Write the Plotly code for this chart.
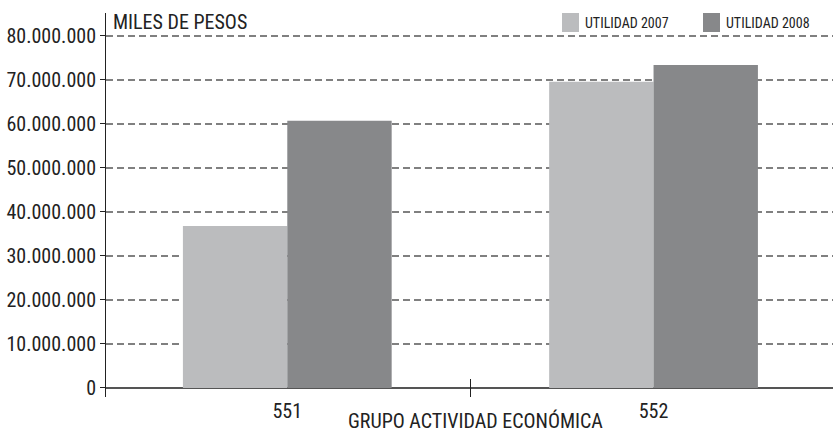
import plotly.graph_objects as go

categories = ["551", "552"]
utilidad_2007 = [36_800_000, 69_600_000]
utilidad_2008 = [60_700_000, 73_400_000]
y_ticks = [0, 10_000_000, 20_000_000, 30_000_000, 40_000_000, 50_000_000, 60_000_000, 70_000_000, 80_000_000]
y_tick_labels = ["0", "10.000.000", "20.000.000", "30.000.000", "40.000.000", "50.000.000",
                 "60.000.000", "70.000.000", "80.000.000"]
series_names = ["UTILIDAD 2007", "UTILIDAD 2008"]
colors = ["#bbbcbe", "#87888a"]

FONT = "Liberation Sans Narrow, Roboto Condensed, DejaVu Sans Condensed, Arial Narrow, sans-serif"
W, H = 833, 433
ML, MR, MT, MB = 106, 0, 13, 36

fig = go.Figure()
for name, vals, col in zip(series_names, [utilidad_2007, utilidad_2008], colors):
    fig.add_trace(go.Bar(x=categories, y=vals, name=name, marker=dict(color=col, line=dict(width=0)),
                         showlegend=False))

def px_x(p):
    return (p - ML) / (W - ML - MR)

def px_y(p):
    return (H - MB - p) / (H - MB - MT)

# custom legend
shapes = []
annotations = []
leg = [(562, 579, 583), (703, 720, 724)]
for (x0, x1, tx), name, col in zip(leg, series_names, colors):
    shapes.append(dict(type="rect", xref="paper", yref="paper", x0=px_x(x0), x1=px_x(x1),
                       y0=px_y(32), y1=px_y(13), fillcolor=col, line=dict(width=0)))
    annotations.append(dict(text=name, xref="paper", yref="paper", x=px_x(tx), y=px_y(23),
                            xanchor="left", yanchor="middle", showarrow=False,
                            font=dict(family=FONT, size=14, color="#222")))

annotations.append(dict(text="MILES DE PESOS", xref="paper", yref="paper", x=px_x(111), y=px_y(22),
                        xanchor="left", yanchor="middle", showarrow=False,
                        font=dict(family=FONT, size=20, color="#222")))
annotations.append(dict(text="GRUPO ACTIVIDAD ECONÓMICA", xref="paper", yref="paper", x=px_x(476),
                        y=px_y(421), xanchor="center", yanchor="middle", showarrow=False,
                        font=dict(family=FONT, size=20, color="#222")))

fig.update_layout(
    width=W, height=H,
    margin=dict(l=ML, r=MR, t=MT, b=MB, autoexpand=False),
    paper_bgcolor="white", plot_bgcolor="white",
    barmode="group", bargap=0.43, bargroupgap=0,
    font=dict(family=FONT, size=20, color="#222"),
    shapes=shapes, annotations=annotations,
    xaxis=dict(range=[-0.495, 1.49], showgrid=False, showline=False, zeroline=False, automargin=False,
               tickson="boundaries", ticks="inside", ticklen=18, tickcolor="#222", tickwidth=1,
               tickfont=dict(family=FONT, size=20, color="#222")),
    yaxis=dict(range=[-2_050_000, 85_200_000], tickvals=y_ticks, ticktext=y_tick_labels, automargin=False,
               showgrid=True, gridcolor="#808080", gridwidth=2, griddash="7px,4px",
               zeroline=True, zerolinecolor="#555555", zerolinewidth=2,
               showline=True, linecolor="#222", linewidth=1,
               ticks="outside", ticklen=5, tickcolor="#222",
               tickfont=dict(family=FONT, size=20, color="#222")),
)

fig.write_html("out.html", config={"displayModeBar": False},
               post_script="document.body.style.margin='0';document.body.style.overflow='hidden';")
